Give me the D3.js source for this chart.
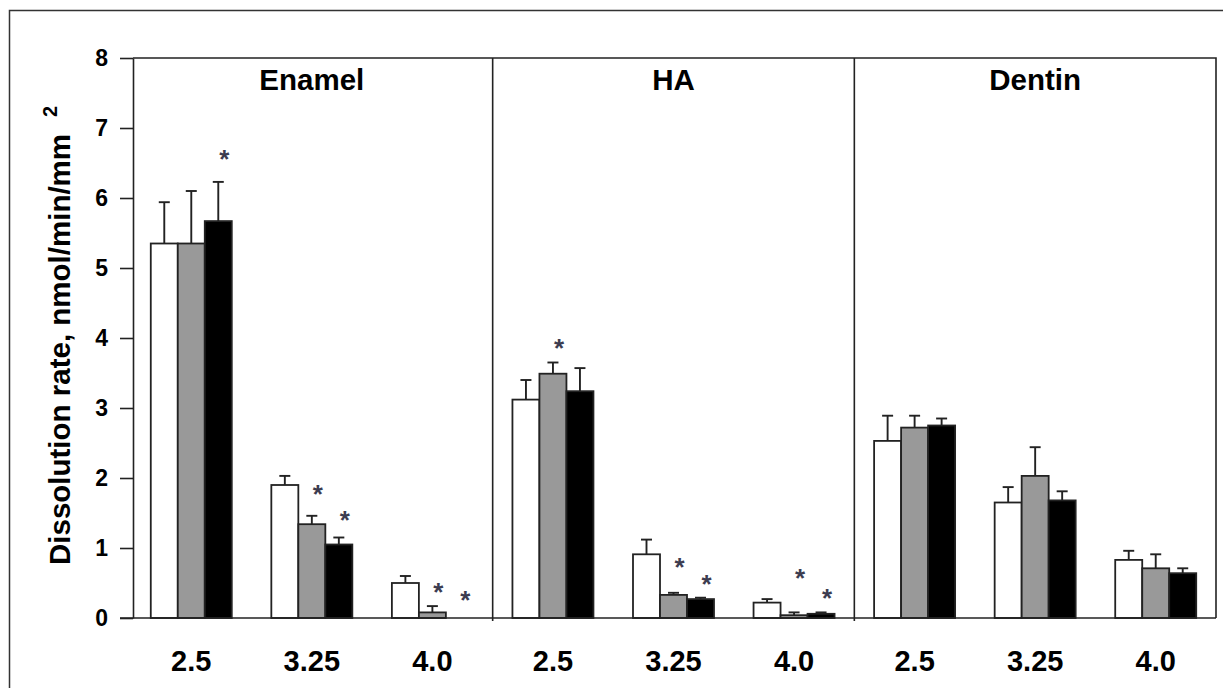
<!DOCTYPE html>
<html>
<head>
<meta charset="utf-8">
<script src="https://cdn.jsdelivr.net/npm/d3@7"></script>
<style>
  body { margin: 0; background: #fff; }
  svg { display: block; font-family: "Liberation Sans", Arial, sans-serif; }
</style>
</head>
<body>
<svg id="chart" width="1223" height="688"></svg>
<script>
const panels = ['Enamel', 'HA', 'Dentin'];
const phLevels = ['2.5', '3.25', '4.0'];
const seriesKeys = ['white', 'gray', 'black'];
const seriesFill = { white: '#ffffff', gray: '#999999', black: '#000000' };

// mean values per series, ordered Enamel(2.5,3.25,4.0), HA(...), Dentin(...)
const whiteValues = [5.35, 1.90, 0.50, 3.12, 0.91, 0.22, 2.53, 1.65, 0.83];
const grayValues  = [5.35, 1.34, 0.08, 3.49, 0.33, 0.04, 2.72, 2.03, 0.71];
const blackValues = [5.67, 1.05, 0.00, 3.24, 0.27, 0.06, 2.75, 1.68, 0.64];

// error bar (upper) sizes
const whiteErrors = [0.59, 0.13, 0.10, 0.28, 0.21, 0.05, 0.36, 0.22, 0.13];
const grayErrors  = [0.75, 0.12, 0.09, 0.16, 0.03, 0.04, 0.17, 0.41, 0.20];
const blackErrors = [0.56, 0.10, 0.00, 0.33, 0.02, 0.02, 0.10, 0.13, 0.07];

// significance stars: group index, series, height of the star
const stars = [
  { group: 0, series: 'black', value: 6.64 },
  { group: 1, series: 'gray', value: 1.86 },
  { group: 1, series: 'black', value: 1.49 },
  { group: 2, series: 'gray', value: 0.46 },
  { group: 2, series: 'black', value: 0.34 },
  { group: 3, series: 'gray', value: 3.95 },
  { group: 4, series: 'gray', value: 0.81 },
  { group: 4, series: 'black', value: 0.57 },
  { group: 5, series: 'gray', value: 0.66 },
  { group: 5, series: 'black', value: 0.37 }
];

const yTicks = [0, 1, 2, 3, 4, 5, 6, 7, 8];

const valuesBySeries = { white: whiteValues, gray: grayValues, black: blackValues };
const errorsBySeries = { white: whiteErrors, gray: grayErrors, black: blackErrors };

const groups = [];
panels.forEach(p => phLevels.forEach(ph => groups.push(p + '|' + ph)));

const bars = [];
groups.forEach((g, i) => {
  seriesKeys.forEach(s => {
    bars.push({ group: g, series: s, value: valuesBySeries[s][i], err: errorsBySeries[s][i] });
  });
});

const svg = d3.select('#chart');
const plotLeft = 131, plotRight = 1216, plotTop = 58, plotBottom = 618;
const stroke = '#222';

// outer frame (runs off the right and bottom edges)
svg.append('rect')
  .attr('x', 9.5).attr('y', 10.5)
  .attr('width', 1240).attr('height', 700)
  .attr('fill', 'none').attr('stroke', '#333').attr('stroke-width', 1.5);

const x = d3.scaleBand().domain(groups).range([plotLeft, plotRight]);
const xs = d3.scaleBand().domain(seriesKeys).range([-40.5, 40.5]);
const y = d3.scaleLinear().domain([0, 8]).range([plotBottom, plotTop]);

// plot box: top and right borders
svg.append('path')
  .attr('d', `M${133},${plotTop}H${plotRight}V${plotBottom}`)
  .attr('fill', 'none').attr('stroke', stroke).attr('stroke-width', 1.6);

// panel dividers
[3, 6].forEach(i => {
  const xx = plotLeft + i * x.step();
  svg.append('line')
    .attr('x1', xx).attr('x2', xx)
    .attr('y1', plotTop).attr('y2', plotBottom + 3)
    .attr('stroke', stroke).attr('stroke-width', 1.6);
});

// y axis
const yAxis = svg.append('g')
  .attr('transform', 'translate(133,0)')
  .call(d3.axisLeft(y).tickValues(yTicks).tickSize(13).tickSizeOuter(0).tickPadding(12));
yAxis.select('.domain').attr('stroke', stroke).attr('stroke-width', 1.6);
yAxis.selectAll('.tick line').attr('stroke', stroke).attr('stroke-width', 1.6);
yAxis.selectAll('.tick text')
  .attr('font-size', 23).attr('font-weight', 'bold').attr('fill', '#000')
  .attr('font-family', '"Liberation Sans", Arial, sans-serif');

// bars
const barG = svg.append('g');
barG.selectAll('rect')
  .data(bars)
  .join('rect')
  .attr('x', d => x(d.group) + x.bandwidth() / 2 + xs(d.series))
  .attr('y', d => y(d.value))
  .attr('width', xs.bandwidth())
  .attr('height', d => y(0) - y(d.value))
  .attr('fill', d => seriesFill[d.series])
  .attr('stroke', stroke).attr('stroke-width', 1.8);

// error bars
const errG = svg.append('g').attr('stroke', stroke).attr('stroke-width', 1.9);
bars.filter(d => d.err > 0).forEach(d => {
  const cx = x(d.group) + x.bandwidth() / 2 + xs(d.series) + xs.bandwidth() / 2;
  errG.append('line')
    .attr('x1', cx).attr('x2', cx)
    .attr('y1', y(d.value)).attr('y2', y(d.value + d.err));
  errG.append('line')
    .attr('x1', cx - 5.5).attr('x2', cx + 5.5)
    .attr('y1', y(d.value + d.err)).attr('y2', y(d.value + d.err));
});

// baseline
svg.append('line')
  .attr('x1', 120).attr('x2', plotRight)
  .attr('y1', y(0)).attr('y2', y(0))
  .attr('stroke', stroke).attr('stroke-width', 1.6);

// stars
svg.append('g').selectAll('text')
  .data(stars)
  .join('text')
  .attr('x', d => x(groups[d.group]) + x.bandwidth() / 2 + xs(d.series) + xs.bandwidth() / 2 + 6)
  .attr('y', d => y(d.value) + 15)
  .attr('text-anchor', 'middle')
  .attr('font-size', 26)
  .attr('font-weight', 'bold')
  .attr('fill', '#3c3c50')
  .text('*');

// x labels
const xAxis = svg.append('g')
  .attr('transform', `translate(0,${plotBottom})`)
  .call(d3.axisBottom(x).tickSize(0).tickPadding(32).tickFormat(d => d.split('|')[1]));
xAxis.select('.domain').remove();
xAxis.selectAll('.tick text')
  .attr('font-size', 29).attr('font-weight', 'bold').attr('fill', '#000')
  .attr('font-family', '"Liberation Sans", Arial, sans-serif');

// panel titles
panels.forEach((p, i) => {
  const cx = plotLeft + (i * 3 + 1.5) * x.step();
  svg.append('text')
    .attr('x', cx).attr('y', 90)
    .attr('text-anchor', 'middle')
    .attr('font-size', 29.5).attr('font-weight', 'bold')
    .text(p);
});

// y title
const yTitle = svg.append('text')
  .attr('transform', 'translate(70,565) rotate(-90)')
  .attr('font-size', 29.5).attr('font-weight', 'bold');
yTitle.append('tspan').text('Dissolution rate, nmol/min/mm');
yTitle.append('tspan').attr('dx', 17).attr('dy', -13).attr('font-size', 20).text('2');
</script>
</body>
</html>
